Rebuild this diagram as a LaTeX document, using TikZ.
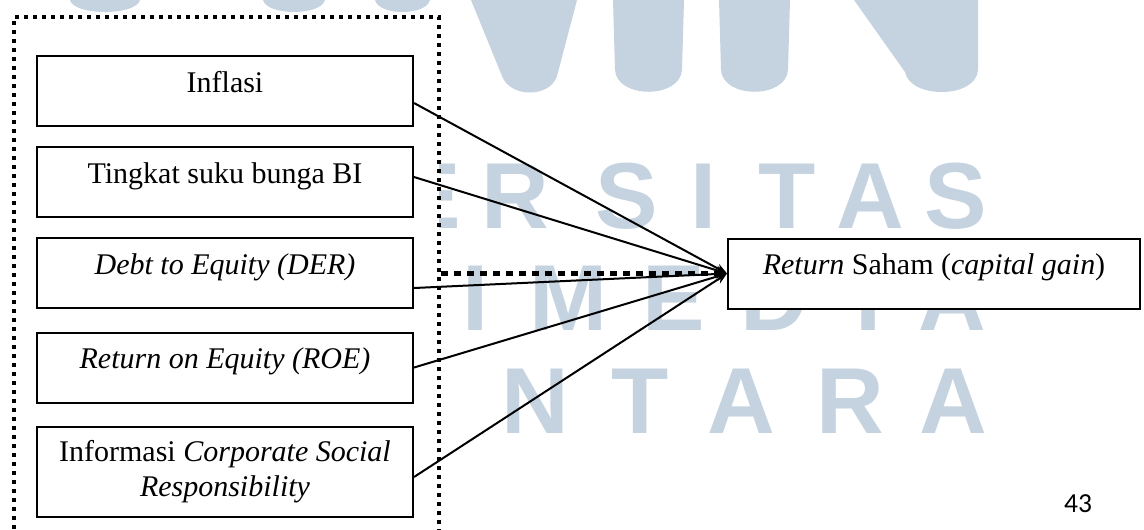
\documentclass[tikz,border=0pt]{standalone}
\usepackage{fontspec}
\setmainfont{Liberation Serif}
\newfontfamily\wmfont{Liberation Sans}
\newfontfamily\pagefont{Carlito}
\usepackage{xcolor}
\usetikzlibrary{arrows.meta, calc, positioning}

\definecolor{wmblue}{RGB}{197,211,224}

\begin{document}
\begin{tikzpicture}[
  x=0.4pt, y=-0.4pt,
  varbox/.style={rectangle, draw, line width=0.8pt, fill=white, minimum width=150.4pt, minimum height=28pt, align=center, font=\fontsize{12}{14}\selectfont},
  single/.style={text height=8pt, text depth=7.2pt},
  grpframe/.style={draw, line width=1.6pt, dash pattern=on 1.7pt off 1.9pt, fill=white, minimum width=170pt, minimum height=220pt, anchor=north west},
  arrow/.style={-{Stealth[length=4.5pt, width=3.6pt]}, line width=0.8pt},
  dotline/.style={line width=2pt, dash pattern=on 2.6pt off 2.6pt},
  wm/.style={font=\wmfont\bfseries\fontsize{37.5}{40}\selectfont, text=wmblue, inner sep=0pt},
  pagenum/.style={font=\pagefont\fontsize{11}{13}\selectfont}
]
\useasboundingbox (0,0) rectangle (1144,529);

%% Watermark
\fill[wmblue] (70,0) .. controls (74,16) and (136,16) .. (140,0) -- cycle;
\fill[wmblue] (263,0) .. controls (267,16) and (321,16) .. (325,0) -- cycle;
\fill[wmblue] (375,0) .. controls (379,16) and (426,16) .. (430,0) -- cycle;
\fill[wmblue] (471,0) -- (502,76) .. controls (510,98) and (550,98) .. (557,76) -- (577,0) -- cycle;
\fill[wmblue] (613,0) -- (615,70) .. controls (617,99) and (680,99) .. (682,70) -- (684,0) -- cycle;
\fill[wmblue] (719,0) -- (721,70) .. controls (723,99) and (786,99) .. (788,70) -- (790,0) -- cycle;
\fill[wmblue] (854,0) -- (905,72) .. controls (910,99) and (976,99) .. (978,70) -- (978,0) -- cycle;
\foreach \ch/\cx in {E/430, R/515, S/627, I/704, T/787, A/870, S/956}
  \node[wm] (wma\cx) at (\cx,196.5) {\ch};
\foreach \ch/\cx in {I/476, M/569, E/674, D/774, I/869, A/952}
  \node[wm] (wmb\cx) at (\cx,298.5) {\ch};
\foreach \ch/\cx in {A/404, N/535, T/640, A/741, R/850, A/953}
  \node[wm] (wmc\cx) at (\cx,401.5) {\ch};

%% Frame
\node[grpframe] (grp) at (12,15) {};

%% Boxes
\node[varbox, single] (inf) at (225,91) {Inflasi};
\node[varbox, single] (bunga) at (225,182) {Tingkat suku bunga BI};
\node[varbox, single] (der) at (225,273) {\textit{Debt to Equity (DER)}};
\node[varbox, single] (roe) at (225,367.5) {\textit{Return on Equity (ROE)}};
\node[varbox, minimum height=36pt] (csr) at (225,472) {Informasi \textit{Corporate Social}\\\textit{Responsibility}};
\node[varbox, single, minimum width=164.8pt] (ret) at (934,273.5) {\textit{Return} Saham (\textit{capital gain})};

%% Arrows
\draw[dotline] (grp.east |- ret.west) -- (ret.west);
\draw[arrow] ($(inf.east)+(0,12)$) -- (ret.west);
\draw[arrow] ($(bunga.east)+(0,-5)$) -- (ret.west);
\draw[arrow] ($(der.east)+(0,15)$) -- (ret.west);
\draw[arrow] (roe.east) -- (ret.west);
\draw[arrow] ($(csr.east)+(0,5)$) -- (ret.west);

%% Page number
\node[pagenum] (pg) at (1078,504) {43};

\end{tikzpicture}
\end{document}
